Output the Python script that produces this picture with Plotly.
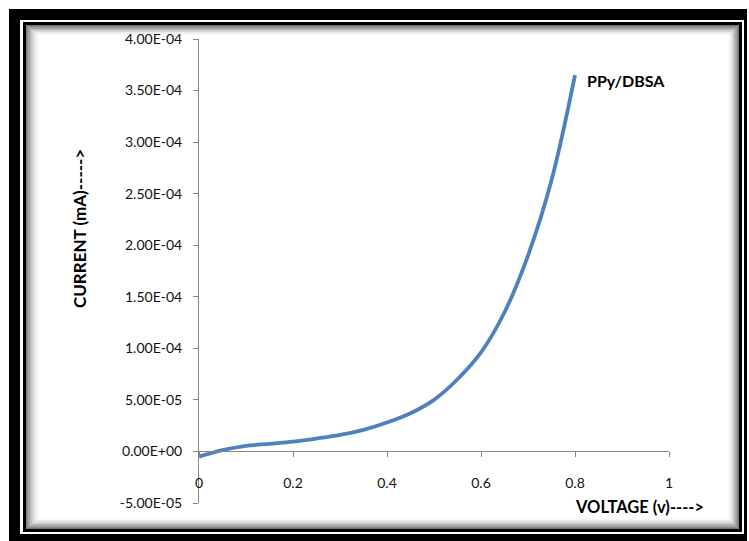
import plotly.graph_objects as go

# I-V characteristic of PPy/DBSA
voltage = [0.0, 0.05, 0.1, 0.15, 0.2, 0.25, 0.3, 0.35, 0.4, 0.45, 0.5,
           0.55, 0.6, 0.65, 0.7, 0.75, 0.8]
current = [-5.0e-6, 1.2e-6, 5.3e-6, 7.4e-6, 9.5e-6, 1.25e-5, 1.6e-5, 2.1e-5,
           2.8e-5, 3.7e-5, 5.0e-5, 7.0e-5, 9.6e-5, 1.35e-4, 1.9e-4,
           2.63e-4, 3.65e-4]

x_ticks = [0, 0.2, 0.4, 0.6, 0.8, 1]
x_tick_text = ["0", "0.2", "0.4", "0.6", "0.8", "1"]
y_ticks = [-5e-5, 0, 5e-5, 1e-4, 1.5e-4, 2e-4, 2.5e-4, 3e-4, 3.5e-4, 4e-4]
y_tick_text = ["-5.00E-05", "0.00E+00", "5.00E-05", "1.00E-04", "1.50E-04",
               "2.00E-04", "2.50E-04", "3.00E-04", "3.50E-04", "4.00E-04"]

W, H = 749, 541
ML, MR, MT, MB = 199, 80, 39, 38
PW, PH = W - ML - MR, H - MT - MB
Y_MIN, Y_MAX = -5e-5, 4e-4


def px(x):
    return (x - ML) / PW


def py(y):
    return (H - MB - y) / PH


FONT = "Lato, 'Liberation Sans', Arial, sans-serif"
AXIS_GREY = "#868686"

fig = go.Figure()
fig.add_trace(go.Scatter(
    x=voltage, y=current, mode="lines",
    line=dict(color="#4F81BD", width=3.8, shape="spline", smoothing=1.0),
    showlegend=False, hoverinfo="skip",
))

shapes = []


def rect(x0, y0, x1, y1, fill=None, line=None, lw=0):
    shapes.append(dict(
        type="rect", xref="paper", yref="paper", layer="below",
        x0=px(x0), x1=px(x1), y0=py(y1), y1=py(y0),
        fillcolor=fill or "rgba(0,0,0,0)",
        line=dict(color=line or "rgba(0,0,0,0)", width=lw),
    ))


# double black frame
rect(9, 9, 747, 545, fill="#000000")
rect(20, 20, 744, 534, fill="#ffffff")
rect(23, 22, 742, 532, fill="#000000")
rect(26, 25, 739, 529, fill="#ffffff")

# soft inner shadow along the frame
for i in range(15):
    a = 0.5 * (1 - i / 15) ** 2
    rect(26.5 + i, 25.5 + i * 0.75, 738.5 - i * 0.8, 528.5 - i * 0.8,
         line=f"rgba(0,0,0,{a:.3f})", lw=1)

fig.update_layout(
    width=W, height=H,
    margin=dict(l=ML, r=MR, t=MT, b=MB, autoexpand=False),
    paper_bgcolor="#ffffff", plot_bgcolor="rgba(0,0,0,0)",
    font=dict(family=FONT, size=14, color="#111111"),
    shapes=shapes,
    xaxis=dict(
        range=[0, 1], tickvals=x_ticks, ticktext=x_tick_text,
        showgrid=False, zeroline=False, showline=True,
        linecolor=AXIS_GREY, linewidth=1, ticks="outside", ticklen=5,
        tickcolor=AXIS_GREY, anchor="free",
        position=(0 - Y_MIN) / (Y_MAX - Y_MIN),
        ticklabelstandoff=14, tickfont=dict(size=14),
    ),
    yaxis=dict(
        range=[Y_MIN, Y_MAX], tickvals=y_ticks, ticktext=y_tick_text,
        showgrid=False, zeroline=False, showline=True,
        linecolor=AXIS_GREY, linewidth=1, ticks="outside", ticklen=5,
        tickcolor=AXIS_GREY, ticklabelstandoff=8, tickfont=dict(size=14),
    ),
    annotations=[
        dict(text="<b>PPy/DBSA</b>", x=0.821, y=3.6e-4, xref="x", yref="y",
             xanchor="left", yanchor="middle", showarrow=False,
             font=dict(size=16, color="#000000")),
        dict(text="<b>VOLTAGE (v)----></b>", x=px(639), y=py(507),
             xref="paper", yref="paper", xanchor="center", yanchor="middle",
             showarrow=False, font=dict(size=16.5, color="#000000")),
        dict(text="<b>CURRENT (mA)-----></b>", x=px(80), y=py(229),
             xref="paper", yref="paper", xanchor="center", yanchor="middle",
             textangle=-90, showarrow=False,
             font=dict(size=17, color="#000000")),
    ],
)

fig.write_html("out.html")
